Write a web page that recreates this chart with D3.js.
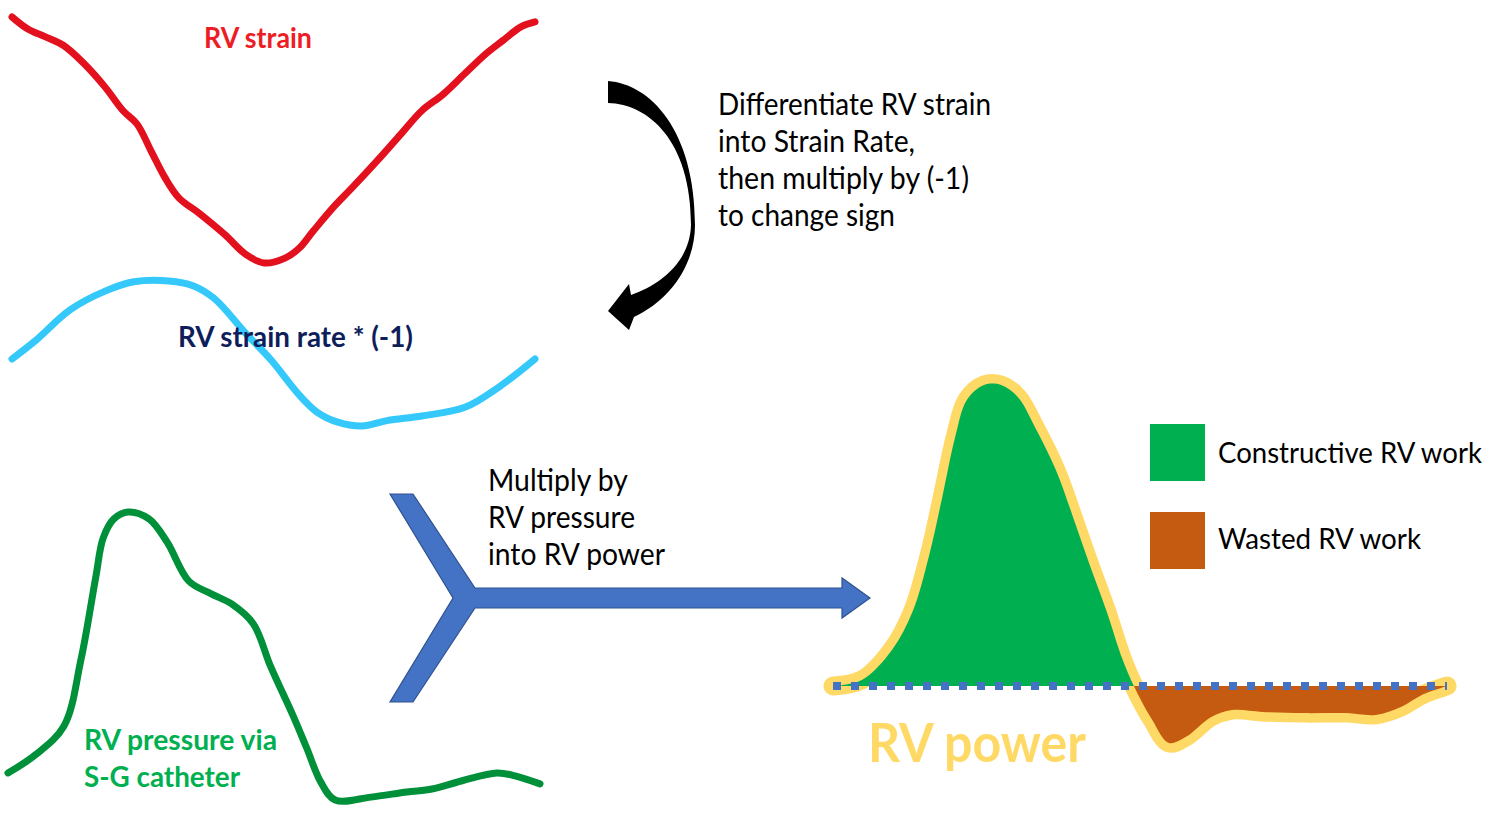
<!DOCTYPE html>
<html><head><meta charset="utf-8">
<script src="https://cdn.jsdelivr.net/npm/d3@7"></script>
<style>html,body{margin:0;padding:0;background:#fff;} svg{display:block;}</style>
</head><body>
<svg id="c" width="1502" height="814"></svg>
<script>
// ---------- data (time in % of cycle) ----------
const strainT   = [0,3.1,6.3,9.8,13.8,17.8,21.2,23.9,26.6,29.3,31.9,35.9,40.7,44.7,48.2,52.2,54.9,57.6,61.6,65.0,69.8,74.4,78.4,82.4,86.6,90.6,93.9,97.3,100];
const strainVal = [0,-1.0,-1.6,-2.3,-3.8,-5.7,-7.6,-8.7,-10.9,-13.1,-14.7,-16.0,-17.7,-19.3,-20.0,-19.6,-18.8,-17.4,-15.4,-13.9,-11.7,-9.5,-7.6,-6.3,-4.6,-3.0,-1.9,-0.8,-0.4];

const srT   = [0,4.4,11.1,17.8,23.3,30.0,34.6,38.6,44.7,49.5,54.9,58.3,62.3,66.9,71.7,78.4,86.6,93.3,100];
const srVal = [0,0.23,0.63,0.87,0.99,1.0,0.94,0.78,0.33,-0.01,-0.46,-0.68,-0.81,-0.86,-0.79,-0.73,-0.62,-0.35,0];

const pressT   = [0,5.1,10.5,13.7,16.5,17.9,19.9,22.6,26.5,29.9,34.0,38.2,42.1,46.1,49.4,53.6,56.2,58.8,61.5,68.2,75.0,79.7,85.2,91.9,95.3,100];
const pressVal = [4.7,7.8,12.8,24.3,38.7,45.5,48.8,50.0,48.8,44.8,38.0,35.8,34.0,30.6,23.1,14.6,8.9,3.1,0,0.5,1.4,1.9,3.3,4.7,4.2,2.8];

const powerT   = [0,4.7,9.6,13.0,15.6,17.8,19.9,21.8,24.6,27.4,30.1,32.9,36.3,39.1,41.7,44.5,47.2,49.0,52.0,54.7,57.5,61.6,65.0,69.9,76.7,83.6,88.4,92.5,95.9,100];
const powerVal = [0,2.0,12.0,24.9,42.9,62.8,82.7,95.0,100,100,96.0,86.0,71.8,56.1,40.9,25.2,8.6,0,-11.3,-18.9,-16.9,-10.3,-8.0,-8.6,-9.0,-9.0,-9.6,-7.0,-3.0,0];

const seriesLabels = ["RV strain","RV strain rate * (-1)","RV pressure via","S-G catheter","RV power"];
const step1Text = ["Differentiate RV strain","into Strain Rate,","then multiply by (-1)","to change sign"];
const step2Text = ["Multiply by","RV pressure","into RV power"];
const legendLabels = ["Constructive RV work","Wasted RV work"];

// ---------- drawing ----------
const svg = d3.select("#c");
const FONT = "Lato, 'Open Sans', sans-serif";

function curveLine(T, V, xs, ys){
  return d3.line().x(i=>xs(T[i])).y(i=>ys(V[i])).curve(d3.curveCatmullRom.alpha(0.5))(d3.range(T.length));
}

// scales
const xStrain = d3.scaleLinear([0,100],[12,535]);
const yStrain = d3.scaleLinear([-20,0],[263,17]);
const ySR = d3.scaleLinear([0,1],[359,281]);
const xP = d3.scaleLinear([0,100],[8,540]);
const yP = d3.scaleLinear([0,50],[800,512]);
const xPow = d3.scaleLinear([0,100],[833,1447]);
const yPow = d3.scaleLinear([0,100],[686,385]);

// strain
svg.append("path").attr("d", curveLine(strainT, strainVal, xStrain, yStrain))
  .attr("fill","none").attr("stroke","#e3101e").attr("stroke-width",7)
  .attr("stroke-linecap","round").attr("stroke-linejoin","round");
// strain rate
svg.append("path").attr("d", curveLine(srT, srVal, xStrain, ySR))
  .attr("fill","none").attr("stroke","#35c8fb").attr("stroke-width",7)
  .attr("stroke-linecap","round").attr("stroke-linejoin","round");
// pressure
svg.append("path").attr("d", curveLine(pressT, pressVal, xP, yP))
  .attr("fill","none").attr("stroke","#01903a").attr("stroke-width",7)
  .attr("stroke-linecap","round").attr("stroke-linejoin","round");

// curved black arrow
svg.append("path")
  .attr("d","M608,81 C650,84 695,130 695,225 C695,265 670,300 634,317 L629,330 L608,311 L629,284 L631,295 C660,285 690,262 691,225 C691,140 648,104 608,103 Z")
  .attr("fill","#000");

// blue chevron arrow
svg.append("path")
  .attr("d","M390,494 L413,494 L475,588 L842,588 L842,578 L870,598 L842,618 L842,608 L475,608 L413,702 L390,702 L453,598 Z")
  .attr("fill","#4472c4").attr("stroke","#2f528f").attr("stroke-width",1.2).attr("stroke-linejoin","miter");

// power curve
const defs = svg.append("defs");
defs.append("clipPath").attr("id","pos").append("rect")
  .attr("x",800).attr("y",300).attr("width",700).attr("height",yPow(0)-300);
defs.append("clipPath").attr("id","neg").append("rect")
  .attr("x",800).attr("y",yPow(0)).attr("width",700).attr("height",150);

const powLine = curveLine(powerT, powerVal, xPow, yPow);
svg.append("path").attr("d", powLine).attr("fill","none")
  .attr("stroke","#ffd966").attr("stroke-width",19)
  .attr("stroke-linecap","round").attr("stroke-linejoin","round");
const area = d3.area().x(i=>xPow(powerT[i])).y0(yPow(0)).y1(i=>yPow(powerVal[i]))
  .curve(d3.curveCatmullRom.alpha(0.5))(d3.range(powerT.length));
svg.append("path").attr("d", area).attr("fill","#00b050").attr("clip-path","url(#pos)");
svg.append("path").attr("d", area).attr("fill","#c55a11").attr("clip-path","url(#neg)");
// dotted zero line
svg.append("line").attr("x1",xPow(0)).attr("x2",xPow(100)).attr("y1",yPow(0)).attr("y2",yPow(0))
  .attr("stroke","#4472c4").attr("stroke-width",8).attr("stroke-dasharray","8,10");

// legend
const legColors = ["#00b050","#c55a11"];
legendLabels.forEach((l,i)=>{
  svg.append("rect").attr("x",1150).attr("y",424+i*88).attr("width",55).attr("height",57).attr("fill",legColors[i]);
});

// text helper
function txt(s, x, y, size, weight, color, w){
  const t = svg.append("text").attr("x",x).attr("y",y).text(s)
    .attr("font-family",FONT).attr("font-size",size).attr("font-weight",weight).attr("fill",color);
  if (w) t.attr("textLength",w).attr("lengthAdjust","spacingAndGlyphs");
  return t;
}
const step1W = [273,197,251,177];
step1Text.forEach((s,i)=>txt(s,718,115+i*37,30,400,"#000",step1W[i]));
const step2W = [140,147,177];
step2Text.forEach((s,i)=>txt(s,488,491+i*37,30,400,"#000",step2W[i]));
txt(legendLabels[0],1218,463,28,400,"#000",264);
txt(legendLabels[1],1218,549,28,400,"#000",203);

txt(seriesLabels[0],204,48,28,700,"#ee1c25",108);
txt(seriesLabels[1],178,347,28,700,"#0e1e5b",235);
txt(seriesLabels[2],84,750,28,700,"#00b050",193);
txt(seriesLabels[3],84,787,28,700,"#00b050",156);
txt(seriesLabels[4],868,762,53,700,"#ffd966",218);
</script>
</body></html>
